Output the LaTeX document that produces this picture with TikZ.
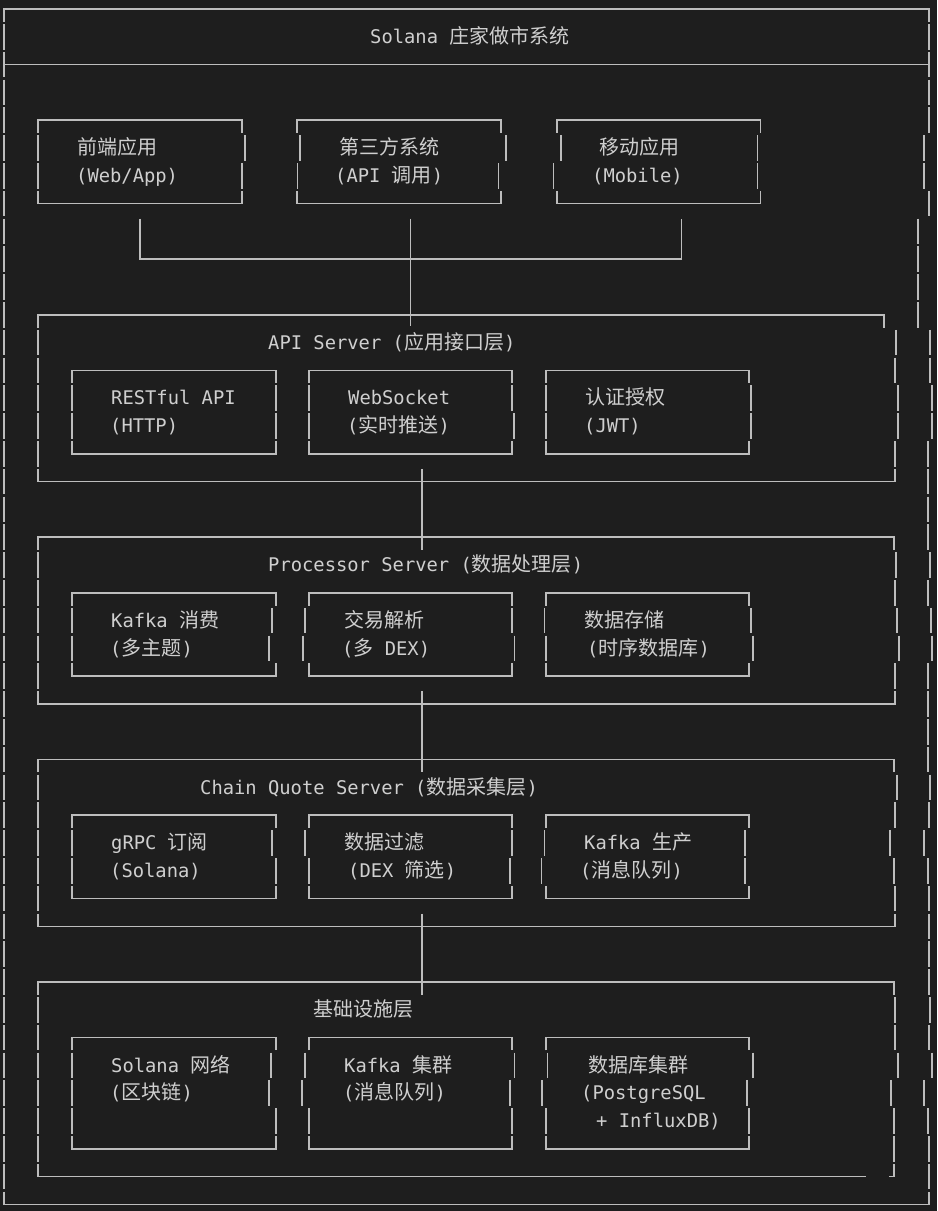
\documentclass[tikz,border=0pt]{standalone}
\usepackage{fontspec}
\setmonofont{DejaVu Sans Mono}
\newfontfamily\cjk{Noto Sans CJK SC}
\usetikzlibrary{calc}

\definecolor{termbg}{HTML}{1E1E1E}
\definecolor{termfg}{HTML}{CFCFCF}
\definecolor{termln}{HTML}{BDBDBD}

\newcommand\zh[1]{{\cjk\fontsize{20}{24}\selectfont #1}}
% one row of a vertical bar, and the top / bottom line of a box
\newcommand\vseg[2]{\draw[edge] (#1,#2-.46) -- (#1,#2+.46);}
\newcommand\boxtop[3]{\draw[edge] (#1,#3+.46) |- (#2,#3) -- (#2,#3+.46);}
\newcommand\boxbot[3]{\draw[edge] (#1,#3-.46) |- (#2,#3) -- (#2,#3-.46);}

\tikzset{
  edge/.style={draw=termln, line width=1.6pt},
  txt/.style={anchor=base west, inner sep=0pt, text=termfg,
    font=\ttfamily\fontsize{18.8}{22}\selectfont},
}

\begin{document}
\begin{tikzpicture}[x=1pt, y=-27.8pt]
  \fill[termbg] (0,-0.3237) rectangle (937,43.237);
  \useasboundingbox (0,-0.3237) rectangle (937,43.237);

  % outer frame
  \draw[edge] (4,.46) |- (929,0) -- (929,.46);
  \draw[edge] (4,2) -- (929,2);
  \draw[edge] (4,42.54) |- (929,43) -- (929,42.54);
  \foreach \r in {1,...,42} {\vseg{4}{\r}}
  \foreach \r/\x in {1/929,2/929,3/929,4/929,5/924,6/924,7/929,8/918,9/918,10/918,11/918,
      12/930,13/930,14/932,15/932,16/928,17/928,18/928,19/928,20/930,21/928,22/931,23/932,
      24/928,25/928,26/928,27/928,28/930,29/929,30/924,31/928,32/929,33/929,34/929,35/929,
      36/930,37/929,38/932,39/924,40/928,41/929,42/929} {\vseg{\x}{\r}}
  \node[txt] (title) at (370,1.24) {Solana \zh{庄家做市系统}};

  % clients
  \boxtop{38}{242}{4} \boxbot{38}{242}{7}
  \foreach \r/\a/\b in {5/38/245,6/38/242} {\vseg{\a}{\r}\vseg{\b}{\r}}
  \boxtop{297}{501}{4} \boxbot{297}{501}{7}
  \foreach \r/\a/\b in {5/300/505.7,6/297.5/498.5} {\vseg{\a}{\r}\vseg{\b}{\r}}
  \boxtop{557}{760.6}{4} \boxbot{557}{760.6}{7}
  \foreach \r/\a/\b in {5/561/757.6,6/553.6/757.6} {\vseg{\a}{\r}\vseg{\b}{\r}}
  \node[txt] (fe1) at (77,5.24) {\zh{前端应用}};
  \node[txt] (fe2) at (76,6.24) {(Web/App)};
  \node[txt] (tp1) at (339,5.24) {\zh{第三方系统}};
  \node[txt] (tp2) at (335,6.24) {(API \zh{调用})};
  \node[txt] (mb1) at (599,5.24) {\zh{移动应用}};
  \node[txt] (mb2) at (592,6.24) {(Mobile)};

  \coordinate (fe-out) at (140,7.54);
  \coordinate (tp-out) at (410.5,7.54);
  \coordinate (mb-out) at (681.6,7.54);
  \coordinate (bus) at (410.5,9);
  \coordinate (api-in) at (410.5,11.4);
  \draw[edge] (fe-out) |- (bus) -| (mb-out);
  \draw[edge] (tp-out) -- (api-in);

  % API Server
  \draw[edge] (38,11.46) |- (884,11) -- (884,11.46);
  \foreach \r/\x in {12/896,13/895,14/898,15/898,16/895} {\vseg{38}{\r}\vseg{\x}{\r}}
  \boxbot{38}{895}{17}
  \node[txt] (apit) at (268,12.24) {API Server (\zh{应用接口层})};
  \boxtop{72}{276}{13} \boxbot{72}{276}{16}
  \foreach \r/\a/\b in {14/72/276,15/72/276} {\vseg{\a}{\r}\vseg{\b}{\r}}
  \boxtop{309}{512}{13} \boxbot{309}{512}{16}
  \foreach \r/\a/\b in {14/309/512,15/309/514} {\vseg{\a}{\r}\vseg{\b}{\r}}
  \boxtop{546}{749}{13} \boxbot{546}{749}{16}
  \foreach \r/\a/\b in {14/546/751,15/546/751} {\vseg{\a}{\r}\vseg{\b}{\r}}
  \node[txt] (rest1) at (111,14.24) {RESTful API};
  \node[txt] (rest2) at (110,15.24) {(HTTP)};
  \node[txt] (ws1) at (348,14.24) {WebSocket};
  \node[txt] (ws2) at (347,15.24) {(\zh{实时推送})};
  \node[txt] (auth1) at (585,14.24) {\zh{认证授权}};
  \node[txt] (auth2) at (584,15.24) {(JWT)};

  \coordinate (api-out) at (422,16.54);
  \coordinate (proc-in) at (422,19.46);
  \draw[edge] (api-out) -- (proc-in);

  % Processor Server
  \boxtop{38}{894}{19} \boxbot{38}{895}{25}
  \foreach \r/\x in {20/896,21/895,22/897,23/899,24/895} {\vseg{38}{\r}\vseg{\x}{\r}}
  \node[txt] (proct) at (268,20.24) {Processor Server (\zh{数据处理层})};
  \boxtop{72}{276}{21} \boxbot{72}{276}{24}
  \foreach \r/\a/\b in {22/72/272,23/72/269} {\vseg{\a}{\r}\vseg{\b}{\r}}
  \boxtop{309}{512}{21} \boxbot{309}{512}{24}
  \foreach \r/\a/\b in {22/305/512,23/303/514.6} {\vseg{\a}{\r}\vseg{\b}{\r}}
  \boxtop{546}{749}{21} \boxbot{546}{749}{24}
  \foreach \r/\a/\b in {22/544.6/751,23/546/753} {\vseg{\a}{\r}\vseg{\b}{\r}}
  \node[txt] (kc1) at (111,22.24) {Kafka \zh{消费}};
  \node[txt] (kc2) at (110,23.24) {(\zh{多主题})};
  \node[txt] (tx1) at (344,22.24) {\zh{交易解析}};
  \node[txt] (tx2) at (342,23.24) {(\zh{多} DEX)};
  \node[txt] (st1) at (584,22.24) {\zh{数据存储}};
  \node[txt] (st2) at (587,23.24) {(\zh{时序数据库})};

  \coordinate (proc-out) at (422,24.54);
  \coordinate (chain-in) at (422,27.46);
  \draw[edge] (proc-out) -- (chain-in);

  % Chain Quote Server
  \boxtop{38}{894}{27} \boxbot{38}{895}{33}
  \foreach \r/\x in {28/897,29/895,30/890,31/894,32/895} {\vseg{38}{\r}\vseg{\x}{\r}}
  \node[txt] (chaint) at (200,28.24) {Chain Quote Server (\zh{数据采集层})};
  \boxtop{72}{276}{29} \boxbot{72}{276}{32}
  \foreach \r/\a/\b in {30/72/272,31/72/276} {\vseg{\a}{\r}\vseg{\b}{\r}}
  \boxtop{309}{512}{29} \boxbot{309}{512}{32}
  \foreach \r/\a/\b in {30/305/512,31/309/510} {\vseg{\a}{\r}\vseg{\b}{\r}}
  \boxtop{546}{749}{29} \boxbot{546}{749}{32}
  \foreach \r/\a/\b in {30/544.6/745,31/541.6/745} {\vseg{\a}{\r}\vseg{\b}{\r}}
  \node[txt] (grpc1) at (111,30.24) {gRPC \zh{订阅}};
  \node[txt] (grpc2) at (110,31.24) {(Solana)};
  \node[txt] (flt1) at (344,30.24) {\zh{数据过滤}};
  \node[txt] (flt2) at (348,31.24) {(DEX \zh{筛选})};
  \node[txt] (kp1) at (584,30.24) {Kafka \zh{生产}};
  \node[txt] (kp2) at (580,31.24) {(\zh{消息队列})};

  \coordinate (chain-out) at (422,32.54);
  \coordinate (infra-in) at (422,35.46);
  \draw[edge] (chain-out) -- (infra-in);

  % infrastructure
  \boxtop{38}{894}{35}
  \foreach \r/\x in {36/895,37/895,38/898,39/891,40/894,41/894} {\vseg{38}{\r}\vseg{\x}{\r}}
  \draw[edge] (38,41.54) |- (866,42);
  \draw[edge] (889,42) -- (894,42) -- (894,41.54);
  \node[txt] (infrat) at (313,36.24) {\zh{基础设施层}};
  \boxtop{72}{276}{37} \boxbot{72}{276}{41}
  \foreach \r/\a/\b in {38/72/271,39/72/269,40/72/276} {\vseg{\a}{\r}\vseg{\b}{\r}}
  \boxtop{309}{512}{37} \boxbot{309}{512}{41}
  \foreach \r/\a/\b in {38/305/514.6,39/302/510,40/309/512} {\vseg{\a}{\r}\vseg{\b}{\r}}
  \boxtop{546}{749}{37} \boxbot{546}{749}{41}
  \foreach \r/\a/\b in {38/547.6/753,39/542/747,40/546/749} {\vseg{\a}{\r}\vseg{\b}{\r}}
  \node[txt] (sol1) at (111,38.24) {Solana \zh{网络}};
  \node[txt] (sol2) at (110,39.24) {(\zh{区块链})};
  \node[txt] (kcl1) at (344,38.24) {Kafka \zh{集群}};
  \node[txt] (kcl2) at (343,39.24) {(\zh{消息队列})};
  \node[txt] (db1) at (588,38.24) {\zh{数据库集群}};
  \node[txt] (db2) at (581,39.24) {(PostgreSQL};
  \node[txt] (db3) at (596,40.24) {+ InfluxDB)};
\end{tikzpicture}
\end{document}
